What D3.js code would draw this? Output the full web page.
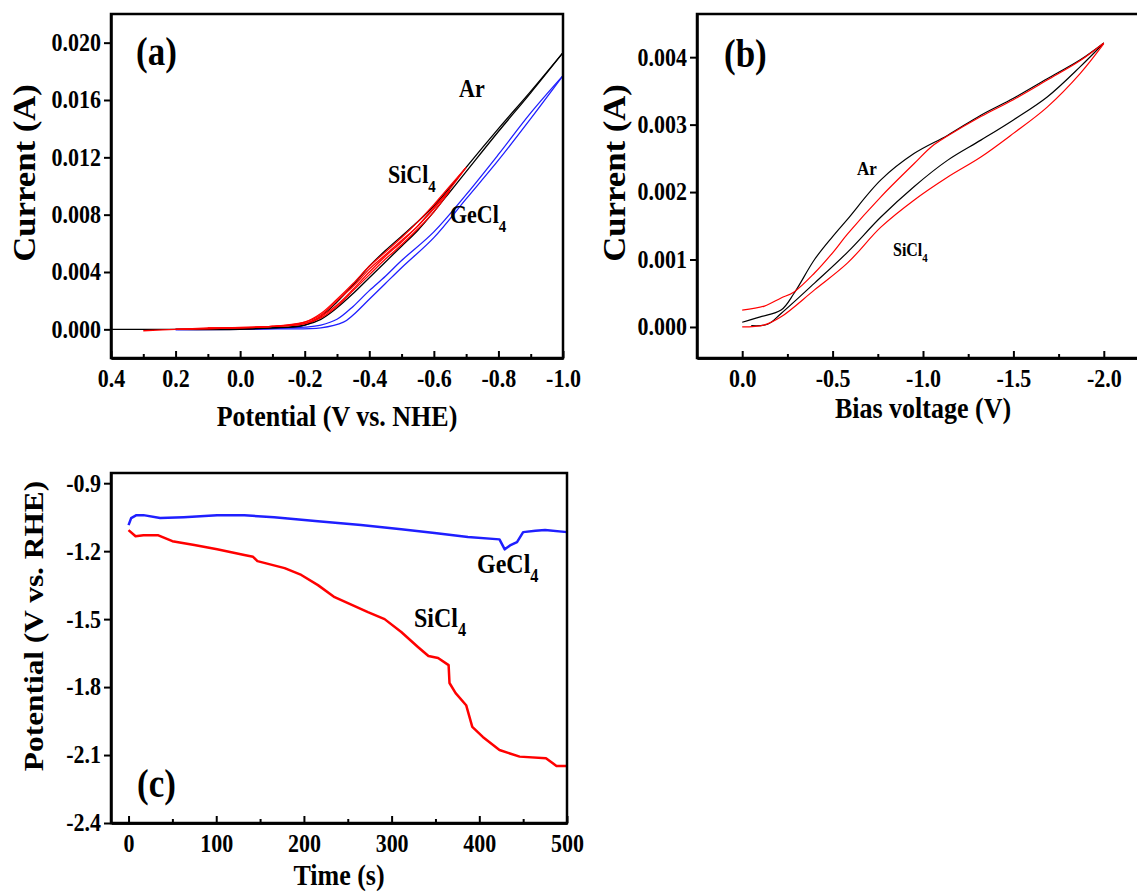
<!DOCTYPE html>
<html>
<head>
<meta charset="utf-8">
<script src="https://cdn.jsdelivr.net/npm/d3@7"></script>
<style>
  html, body { margin: 0; padding: 0; background: #fff; }
  svg { display: block; }
  text { font-family: "Liberation Serif", "Times New Roman", serif; font-weight: bold; fill: #000; }
</style>
</head>
<body>
<svg id="chart" width="1137" height="892"></svg>
<script>
// ---- panel (a): CV curves, potential (V vs. NHE) vs current (A)
var aTicksX = [0.4, 0.2, 0.0, -0.2, -0.4, -0.6, -0.8, -1.0];
var aMinorX = [0.3, 0.1, -0.1, -0.3, -0.5, -0.7, -0.9];
var aTicksY = [0.000, 0.004, 0.008, 0.012, 0.016, 0.020];

var arOut = [[0.4, 0], [0.2, 0], [0.0, 0.00005], [-0.1, 0.0001], [-0.2, 0.0003], [-0.25, 0.0009], [-0.3, 0.0019],
  [-0.35, 0.0031], [-0.4, 0.0044], [-0.45, 0.0055], [-0.5, 0.0065], [-0.55, 0.0075], [-0.6, 0.0086],
  [-0.65, 0.0099], [-0.7, 0.0113], [-0.8, 0.0140], [-0.9, 0.0166], [-1.0, 0.0193]];
var arBack = [[-1.0, 0.0193], [-0.9, 0.0165], [-0.8, 0.0138], [-0.7, 0.0110], [-0.65, 0.0096], [-0.6, 0.0082],
  [-0.55, 0.0069], [-0.5, 0.0058], [-0.45, 0.0047], [-0.4, 0.0036], [-0.35, 0.0025], [-0.3, 0.0015],
  [-0.25, 0.0007], [-0.2, 0.0003], [-0.1, 0.0001], [0.0, 0.0], [0.2, 0.0]];
var siOut1 = [[0.3, -0.0001], [0.2, 0.0], [0.1, 0.0001], [-0.1, 0.0002], [-0.2, 0.0005], [-0.25, 0.0011], [-0.3, 0.0021],
  [-0.35, 0.0032], [-0.4, 0.0044], [-0.45, 0.0054], [-0.5, 0.0064], [-0.55, 0.0075], [-0.6, 0.0087],
  [-0.65, 0.0100], [-0.7, 0.0113]];
var siBack1 = [[-0.7, 0.0113], [-0.65, 0.0098], [-0.6, 0.0084], [-0.55, 0.0072], [-0.5, 0.0061], [-0.45, 0.0051],
  [-0.4, 0.0040], [-0.35, 0.0028], [-0.3, 0.0017], [-0.25, 0.0009], [-0.2, 0.0004], [-0.1, 0.0002],
  [0.0, 0.0001], [0.2, 0.0]];
var siOut2 = [[0.2, 0.0], [0.0, 0.0001], [-0.1, 0.0002], [-0.2, 0.0005], [-0.25, 0.0010], [-0.3, 0.0020],
  [-0.35, 0.0030], [-0.4, 0.0042], [-0.45, 0.0052], [-0.5, 0.0062], [-0.55, 0.0072], [-0.6, 0.0085],
  [-0.65, 0.0097]];
var siBack2 = [[-0.65, 0.0097], [-0.6, 0.0082], [-0.55, 0.0070], [-0.5, 0.0059], [-0.45, 0.0049], [-0.4, 0.0038],
  [-0.35, 0.0027], [-0.3, 0.0016], [-0.25, 0.0008], [-0.2, 0.0004], [-0.1, 0.0002], [0.1, 0.0001]];
var geOut = [[0.2, 0.0], [0.0, 0.00002], [-0.1, 0.00005], [-0.15, 0.0001], [-0.2, 0.00015], [-0.25, 0.0003],
  [-0.3, 0.0007], [-0.35, 0.0016], [-0.4, 0.0027], [-0.45, 0.0037], [-0.5, 0.0048], [-0.6, 0.0068],
  [-0.7, 0.0094], [-0.8, 0.0122], [-0.9, 0.0151], [-1.0, 0.0177]];
var geBack = [[-1.0, 0.0177], [-0.9, 0.0147], [-0.8, 0.0118], [-0.7, 0.0091], [-0.6, 0.0064], [-0.5, 0.0043],
  [-0.45, 0.0032], [-0.4, 0.0021], [-0.35, 0.0010], [-0.32, 0.0005], [-0.25, 0.0001], [-0.1, 0.00003],
  [0.0, 0.0], [0.2, -0.00003]];

// ---- panel (b): bias voltage (V) vs current (A)
var bTicksX = [0.0, -0.5, -1.0, -1.5, -2.0];
var bMinorX = [-0.25, -0.75, -1.25, -1.75];
var bTicksY = [0.000, 0.001, 0.002, 0.003, 0.004];

var bArOut = [[0, 0.00007], [-0.1, 0.00015], [-0.215, 0.00025], [-0.287, 0.0005], [-0.4, 0.001], [-0.5, 0.00134],
  [-0.583, 0.0016], [-0.767, 0.00218], [-0.95, 0.00257], [-1.135, 0.00284], [-1.32, 0.00314],
  [-1.5, 0.00339], [-1.687, 0.00368], [-1.87, 0.00396], [-2.0, 0.00421]];
var bArBack = [[-2.0, 0.00421], [-1.87, 0.00386], [-1.687, 0.00341], [-1.5, 0.00307], [-1.32, 0.00277],
  [-1.135, 0.00247], [-0.95, 0.00208], [-0.767, 0.00163], [-0.583, 0.00111], [-0.4, 0.00065],
  [-0.215, 0.0002], [-0.14, 0.00004], [-0.05, 0.00002]];
var bSiOut = [[0, 0.00025], [-0.123, 0.00031], [-0.215, 0.00043], [-0.287, 0.00052], [-0.4, 0.0008], [-0.5, 0.0011],
  [-0.583, 0.00138], [-0.767, 0.00193], [-0.95, 0.00242], [-1.05, 0.00268], [-1.135, 0.00283], [-1.32, 0.00312],
  [-1.5, 0.00337], [-1.687, 0.00366], [-1.87, 0.00395], [-2.0, 0.00421]];
var bSiBack = [[-2.0, 0.0042], [-1.87, 0.00376], [-1.687, 0.00326], [-1.5, 0.00287], [-1.32, 0.00252],
  [-1.135, 0.00222], [-0.95, 0.00188], [-0.767, 0.00148], [-0.583, 0.00095], [-0.4, 0.00055],
  [-0.215, 0.00015], [-0.123, 0.00003], [0, 0.0]];

// ---- panel (c): time (s) vs potential (V vs. RHE)
var cTicksX = [0, 100, 200, 300, 400, 500];
var cMinorX = [50, 150, 250, 350, 450];
var cTicksY = [-0.9, -1.2, -1.5, -1.8, -2.1, -2.4];

var cGe = [[0, -1.085], [3, -1.054], [9, -1.041], [17, -1.041], [36, -1.054], [63, -1.05], [101, -1.042],
  [132, -1.042], [166, -1.05], [216, -1.068], [265, -1.085], [311, -1.103], [349, -1.12], [387, -1.138],
  [423, -1.148], [429, -1.192], [435, -1.175], [443, -1.16], [450, -1.116], [464, -1.11], [475, -1.107],
  [500, -1.116]];
var cSi = [[0, -1.107], [8, -1.134], [17, -1.13], [34, -1.13], [50, -1.156], [75, -1.173], [101, -1.192],
  [132, -1.217], [142, -1.225], [147, -1.244], [178, -1.275], [197, -1.305], [216, -1.35], [235, -1.403],
  [273, -1.469], [292, -1.5], [311, -1.557], [330, -1.623], [342, -1.663], [353, -1.672], [365, -1.703],
  [366, -1.782], [373, -1.827], [385, -1.88], [392, -1.976], [404, -2.02], [423, -2.078], [446, -2.107],
  [476, -2.114], [488, -2.148], [500, -2.148]];

var svg = d3.select('#chart');
var stretch = 'scale(1,1.12)';   // the original figure text is slightly taller than wide

function hyphen(fmt) {
  return function (d) { return fmt(d).replace('\u2212', '-'); };
}

function putText(parent, x, y, size, str, extra) {
  return parent.append('text')
    .attr('transform', 'translate(' + x + ',' + y + ') ' + stretch + (extra || ''))
    .style('font-size', size + 'px')
    .text(str);
}

// draw one framed panel with inward x ticks and outward y ticks
function drawPanel(p) {
  var x = d3.scaleLinear().domain(p.xDomain).range([p.left, p.right]);
  var y = d3.scaleLinear().domain(p.yDomain).range([p.bottom, p.top]);
  var g = svg.append('g');

  var line = d3.line()
    .x(function (d) { return x(d[0]); })
    .y(function (d) { return y(d[1]); })
    .curve(p.curve);

  p.series.forEach(function (s) {
    g.append('path')
      .datum(s.data)
      .attr('d', line)
      .attr('fill', 'none')
      .attr('stroke', s.color)
      .attr('stroke-width', s.width)
      .attr('stroke-linejoin', 'round');
  });

  g.append('rect')
    .attr('x', p.left).attr('y', p.top)
    .attr('width', p.right - p.left).attr('height', p.bottom - p.top)
    .attr('fill', 'none').attr('stroke', '#000').attr('stroke-width', 2.5);

  g.append('g')
    .attr('transform', 'translate(0,' + p.bottom + ')')
    .call(d3.axisBottom(x).tickValues(p.ticksX).tickFormat(hyphen(p.fmtX))
      .tickSizeInner(-7).tickSizeOuter(0).tickPadding(10));
  g.append('g')
    .attr('transform', 'translate(0,' + p.bottom + ')')
    .call(d3.axisBottom(x).tickValues(p.minorX).tickFormat('')
      .tickSizeInner(-4).tickSizeOuter(0));

  g.append('g')
    .attr('transform', 'translate(' + p.left + ',0)')
    .call(d3.axisLeft(y).tickValues(p.ticksY).tickFormat(hyphen(p.fmtY))
      .tickSizeInner(7).tickSizeOuter(0).tickPadding(3));

  g.selectAll('.domain').attr('stroke-width', 2.5);
  g.selectAll('.tick line').attr('stroke-width', 2);
  g.selectAll('.tick text')
    .attr('transform', stretch)
    .style('font-size', '22px')
    .style('font-family', '"Liberation Serif", serif').style('font-weight', 'bold');

  putText(g, (p.left + Math.min(p.right, 1137)) / 2 + p.xTitleShift, p.xTitleY, 26, p.xTitle)
    .attr('text-anchor', 'middle');

  putText(g, p.yTitleX, p.yTitleY, p.yTitleSize, p.yTitle, ' rotate(-90)')
    .attr('text-anchor', 'middle');

  putText(g, p.tag[0], p.tag[1], 35, p.tag[2]);

  p.labels.forEach(function (l) {
    var t = putText(g, l.x, l.y, l.size, l.text);
    if (l.sub) {
      t.append('tspan')
        .attr('dy', l.size * 0.35)
        .style('font-size', (l.size * 0.68) + 'px')
        .text(l.sub);
    }
  });
}

drawPanel({
  left: 111, right: 563, top: 14, bottom: 358,
  xDomain: [0.4, -1.0], yDomain: [-0.002, 0.022],
  ticksX: aTicksX, minorX: aMinorX, ticksY: aTicksY,
  fmtX: d3.format('.1f'), fmtY: d3.format('.3f'),
  curve: d3.curveCatmullRom,
  series: [
    { data: geOut, color: '#1f1fff', width: 1.3 },
    { data: geBack, color: '#1f1fff', width: 1.3 },
    { data: arOut, color: '#000', width: 1.3 },
    { data: arBack, color: '#000', width: 1.3 },
    { data: siOut1, color: '#f00', width: 1.3 },
    { data: siBack1, color: '#f00', width: 1.3 },
    { data: siOut2, color: '#f00', width: 1.3 },
    { data: siBack2, color: '#f00', width: 1.3 }
  ],
  xTitle: 'Potential (V vs. NHE)', xTitleY: 426, xTitleShift: 0,
  yTitle: 'Current (A)', yTitleX: 35, yTitleY: 173, yTitleSize: 31,
  tag: [136, 65, '(a)'],
  labels: [
    { x: 459, y: 97, size: 22, text: 'Ar' },
    { x: 388, y: 183, size: 22, text: 'SiCl', sub: '4' },
    { x: 450, y: 223, size: 22, text: 'GeCl', sub: '4' }
  ]
});

drawPanel({
  left: 697, right: 1149, top: 14, bottom: 358,
  xDomain: [0.25, -2.25], yDomain: [-0.00046, 0.00464],
  ticksX: bTicksX, minorX: bMinorX, ticksY: bTicksY,
  fmtX: d3.format('.1f'), fmtY: d3.format('.3f'),
  curve: d3.curveCatmullRom,
  series: [
    { data: bArOut, color: '#000', width: 1.2 },
    { data: bArBack, color: '#000', width: 1.2 },
    { data: bSiOut, color: '#f00', width: 1.2 },
    { data: bSiBack, color: '#f00', width: 1.2 }
  ],
  xTitle: 'Bias voltage (V)', xTitleY: 418, xTitleShift: 6,
  yTitle: 'Current (A)', yTitleX: 625, yTitleY: 173, yTitleSize: 31,
  tag: [724, 67, '(b)'],
  labels: [
    { x: 857, y: 175, size: 17, text: 'Ar' },
    { x: 893, y: 256, size: 16, text: 'SiCl', sub: '4' }
  ]
});

drawPanel({
  left: 111, right: 567, top: 473, bottom: 823,
  xDomain: [-20, 500], yDomain: [-2.4, -0.855],
  ticksX: cTicksX, minorX: cMinorX, ticksY: cTicksY,
  fmtX: d3.format('d'), fmtY: d3.format('.1f'),
  curve: d3.curveLinear,
  series: [
    { data: cGe, color: '#1f1fff', width: 2.5 },
    { data: cSi, color: '#f00', width: 2.5 }
  ],
  xTitle: 'Time (s)', xTitleY: 885, xTitleShift: 0,
  yTitle: 'Potential (V vs. RHE)', yTitleX: 43, yTitleY: 626, yTitleSize: 28,
  tag: [137, 797, '(c)'],
  labels: [
    { x: 477, y: 573, size: 24, text: 'GeCl', sub: '4' },
    { x: 414, y: 627, size: 24, text: 'SiCl', sub: '4' }
  ]
});
</script>
</body>
</html>
